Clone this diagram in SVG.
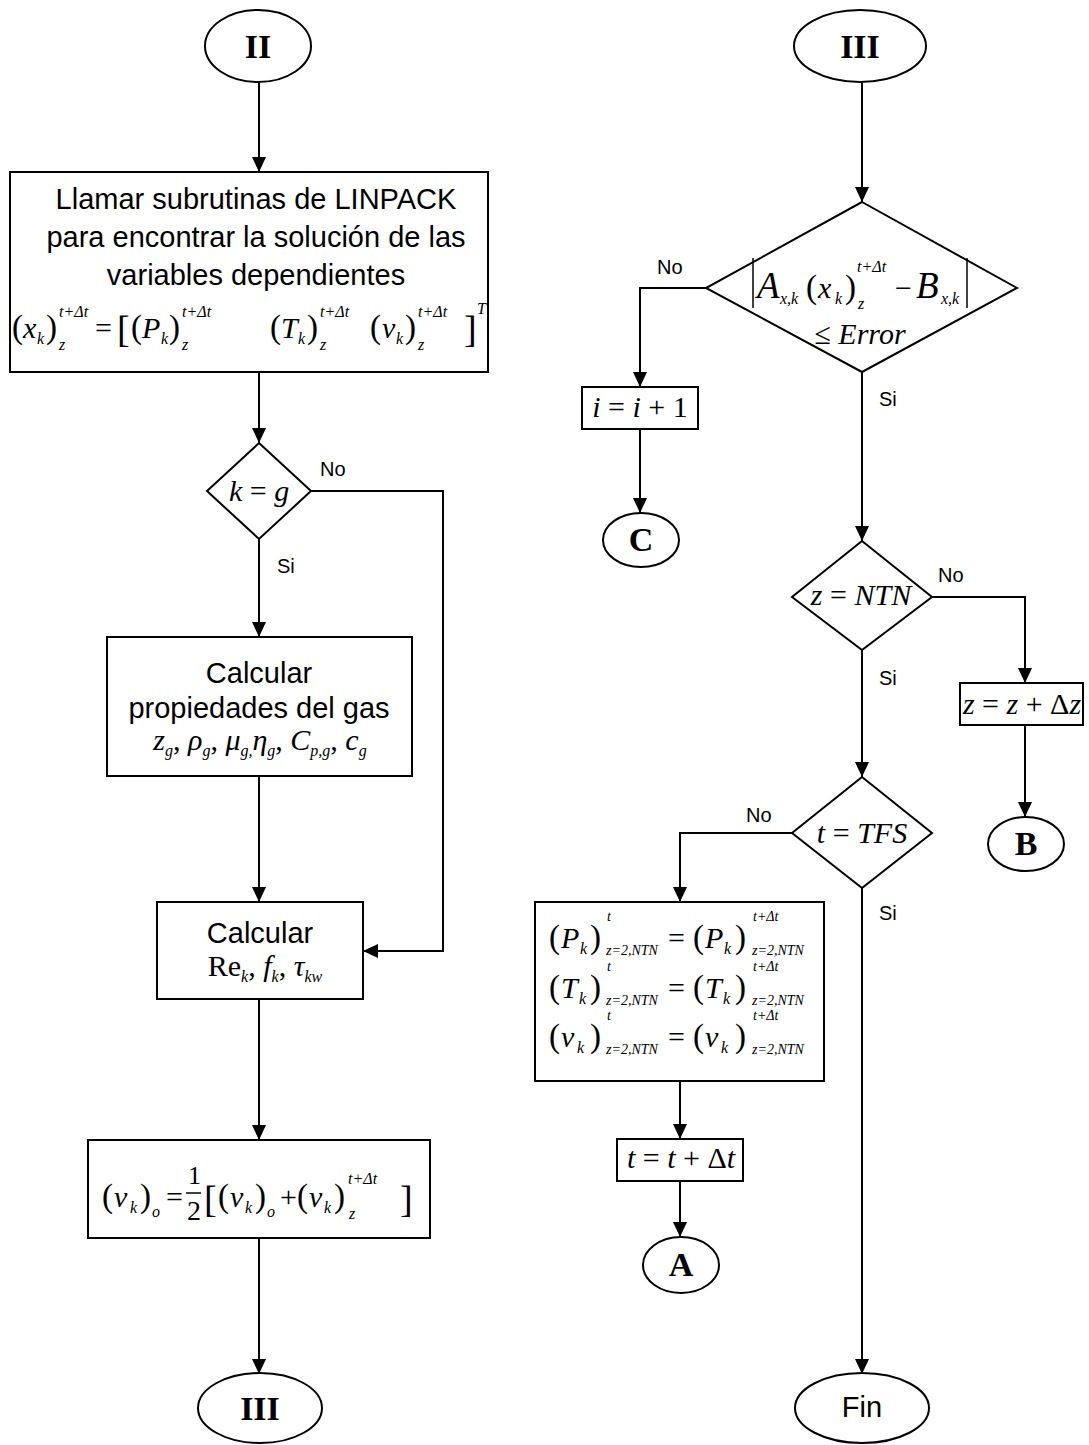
<svg xmlns="http://www.w3.org/2000/svg" width="1089" height="1445" viewBox="0 0 1089 1445">
<defs>
<marker id="arr" markerUnits="userSpaceOnUse" markerWidth="16" markerHeight="14" refX="15" refY="7" orient="auto">
<path d="M0,0 L15,7 L0,14 z" fill="#000"/>
</marker>
<style>
.sh{fill:#fff;stroke:#000;stroke-width:2}
.ln{fill:none;stroke:#000;stroke-width:2;marker-end:url(#arr)}
.lbl{font-family:"Liberation Sans",Arial,sans-serif;font-size:20px;fill:#000}
.bt{font-family:"Liberation Sans",Arial,sans-serif;font-size:29px;fill:#000;text-anchor:middle}
.term{font-family:"Liberation Serif","Times New Roman",serif;font-weight:bold;font-size:34px;fill:#000;text-anchor:middle}
.m{font-family:"Liberation Serif","Times New Roman",serif;font-size:30px;fill:#000}
.i{font-style:italic}
.s{font-size:16px;font-style:italic}
.ss{font-size:14px;font-style:italic}
.p{font-size:33px}
.bk{font-size:38px}
.bar{stroke:#000;stroke-width:1.5}
</style>
</defs>

<g id="connectors">
<path class="ln" d="M259,82 L259,172"/>
<path class="ln" d="M259,372 L259,443"/>
<path class="ln" d="M311,491 L443,491 L443,951 L363,951"/>
<path class="ln" d="M259,539 L259,637"/>
<path class="ln" d="M259,776 L259,902"/>
<path class="ln" d="M259,999 L259,1140"/>
<path class="ln" d="M259,1238 L259,1374"/>
<path class="ln" d="M862,82 L862,202"/>
<path class="ln" d="M706,288 L640,288 L640,387"/>
<path class="ln" d="M640,429 L640,513"/>
<path class="ln" d="M862,372 L862,541"/>
<path class="ln" d="M932,597 L1025,597 L1025,683"/>
<path class="ln" d="M1025,725 L1025,817"/>
<path class="ln" d="M862,650 L862,777"/>
<path class="ln" d="M792,833 L680,833 L680,902"/>
<path class="ln" d="M862,888 L862,1374"/>
<path class="ln" d="M680,1081 L680,1139"/>
<path class="ln" d="M680,1181 L680,1237"/>
<text class="lbl" x="320" y="476">No</text>
<text class="lbl" x="277" y="573">Si</text>
<text class="lbl" x="657" y="274">No</text>
<text class="lbl" x="879" y="406">Si</text>
<text class="lbl" x="938" y="582">No</text>
<text class="lbl" x="879" y="685">Si</text>
<text class="lbl" x="746" y="822">No</text>
<text class="lbl" x="879" y="920">Si</text>
</g>

<g id="start-II">
<ellipse class="sh" cx="258" cy="46" rx="53" ry="36"/>
<text class="term" x="258" y="58">II</text>
</g>

<g id="linpack">
<rect class="sh" x="10" y="172" width="478" height="200"/>
<text class="bt" x="256" y="209">Llamar subrutinas de LINPACK</text>
<text class="bt" x="256" y="247">para encontrar la solución de las</text>
<text class="bt" x="256" y="285">variables dependientes</text>
<text class="m"><tspan class="p" x="12" y="338">(</tspan><tspan class="i" x="23" y="338">x</tspan><tspan class="s" x="37" y="344">k</tspan><tspan class="p" x="46" y="338">)</tspan><tspan class="s" x="59" y="350">z</tspan><tspan class="s" x="59" y="317">t+Δt</tspan><tspan x="95" y="338">=</tspan><tspan class="bk" x="117" y="342">[</tspan><tspan class="p" x="131" y="338">(</tspan><tspan class="i" x="142" y="338">P</tspan><tspan class="s" x="161" y="344">k</tspan><tspan class="p" x="169" y="338">)</tspan><tspan class="s" x="182" y="350">z</tspan><tspan class="s" x="182" y="317">t+Δt</tspan><tspan class="p" x="270" y="338">(</tspan><tspan class="i" x="281" y="338">T</tspan><tspan class="s" x="298" y="344">k</tspan><tspan class="p" x="307" y="338">)</tspan><tspan class="s" x="320" y="350">z</tspan><tspan class="s" x="320" y="317">t+Δt</tspan><tspan class="p" x="370" y="338">(</tspan><tspan class="i" x="382" y="338">v</tspan><tspan class="s" x="396" y="344">k</tspan><tspan class="p" x="405" y="338">)</tspan><tspan class="s" x="418" y="350">z</tspan><tspan class="s" x="418" y="317">t+Δt</tspan><tspan class="bk" x="464" y="342">]</tspan><tspan class="s" x="477" y="314">T</tspan></text>
</g>

<g id="dec-kg">
<polygon class="sh" points="259,443 311,491 259,539 207,491"/>
<text class="m" font-size="29" x="259" y="501" text-anchor="middle"><tspan class="i">k</tspan> = <tspan class="i">g</tspan></text>
</g>

<g id="gas">
<rect class="sh" x="107" y="637" width="305" height="139"/>
<text class="bt" x="259" y="683">Calcular</text>
<text class="bt" x="259" y="718">propiedades del gas</text>
<text class="m" x="260" y="750" text-anchor="middle"><tspan class="i">z</tspan><tspan class="s" dy="6" font-size="18">g</tspan><tspan dy="-6">, </tspan><tspan class="i">ρ</tspan><tspan class="s" dy="6" font-size="18">g</tspan><tspan dy="-6">, </tspan><tspan class="i">μ</tspan><tspan class="s" dy="6" font-size="18">g,</tspan><tspan class="i" dy="-6">η</tspan><tspan class="s" dy="6" font-size="18">g</tspan><tspan dy="-6">, </tspan><tspan class="i">C</tspan><tspan class="s" dy="6" font-size="18">p,g</tspan><tspan dy="-6">, </tspan><tspan class="i">c</tspan><tspan class="s" dy="6" font-size="18">g</tspan></text>
</g>

<g id="re">
<rect class="sh" x="157" y="902" width="206" height="97"/>
<text class="bt" x="260" y="943">Calcular</text>
<text class="m" x="265" y="976" text-anchor="middle">Re<tspan class="s" dy="6" font-size="18">k</tspan><tspan dy="-6">, </tspan><tspan class="i">f</tspan><tspan class="s" dy="6" font-size="18">k</tspan><tspan dy="-6">, </tspan><tspan class="i">τ</tspan><tspan class="s" dy="6" font-size="18">kw</tspan></text>
</g>

<g id="vk">
<rect class="sh" x="88" y="1140" width="342" height="98"/>
<text class="m"><tspan class="p" x="102" y="1207">(</tspan><tspan class="i" x="114" y="1207">v</tspan><tspan class="s" x="130" y="1213">k</tspan><tspan class="p" x="140" y="1207">)</tspan><tspan class="s" font-size="18" x="152" y="1217">o</tspan><tspan x="166" y="1207">=</tspan><tspan font-size="26" x="188" y="1184">1</tspan><tspan font-size="28" x="187" y="1220">2</tspan><tspan class="bk" x="204" y="1212">[</tspan><tspan class="p" x="218" y="1207">(</tspan><tspan class="i" x="230" y="1207">v</tspan><tspan class="s" x="245" y="1213">k</tspan><tspan class="p" x="255" y="1207">)</tspan><tspan class="s" font-size="18" x="267" y="1217">o</tspan><tspan x="280" y="1207">+</tspan><tspan class="p" x="297" y="1207">(</tspan><tspan class="i" x="309" y="1207">v</tspan><tspan class="s" x="324" y="1213">k</tspan><tspan class="p" x="334" y="1207">)</tspan><tspan class="s" x="349" y="1219">z</tspan><tspan class="s" x="348" y="1184">t+Δt</tspan><tspan class="bk" x="400" y="1212">]</tspan></text>
<line class="bar" x1="186" y1="1193" x2="201" y2="1193"/>
</g>

<g id="end-III-left">
<ellipse class="sh" cx="260" cy="1408" rx="62" ry="35"/>
<text class="term" x="260" y="1420">III</text>
</g>

<g id="start-III">
<ellipse class="sh" cx="860" cy="46" rx="66" ry="36"/>
<text class="term" x="860" y="58">III</text>
</g>

<g id="dec-error">
<polygon class="sh" points="862,202 1017,288 862,372 706,288"/>
<line class="bar" x1="753" y1="258" x2="753" y2="308"/>
<line class="bar" x1="967" y1="258" x2="967" y2="308"/>
<text class="m" font-size="34"><tspan class="i" font-size="37" x="757" y="298">A</tspan><tspan class="s" font-size="17" x="780" y="304">x,k</tspan><tspan class="p" font-size="37" x="806" y="298">(</tspan><tspan class="i" x="818" y="298">x</tspan><tspan class="s" font-size="17" x="835" y="304">k</tspan><tspan class="p" font-size="37" x="845" y="298">)</tspan><tspan class="s" x="858" y="309">z</tspan><tspan class="s" x="857" y="272">t+Δt</tspan><tspan x="895" y="298">−</tspan><tspan class="i" font-size="37" x="916" y="298">B</tspan><tspan class="s" font-size="17" x="941" y="304">x,k</tspan></text>
<text class="m" x="860" y="344" text-anchor="middle">≤ <tspan class="i">Error</tspan></text>
</g>

<g id="inc-i">
<rect class="sh" x="582" y="387" width="116" height="42"/>
<text class="m" font-size="26" x="640" y="417" text-anchor="middle"><tspan class="i">i</tspan> = <tspan class="i">i</tspan> + 1</text>
</g>

<g id="conn-C">
<ellipse class="sh" cx="641" cy="540" rx="38" ry="27"/>
<text class="term" font-size="30" x="641" y="551">C</text>
</g>

<g id="dec-ntn">
<polygon class="sh" points="862,541 932,597 862,650 792,597"/>
<text class="m" font-size="25" x="861" y="605" text-anchor="middle"><tspan class="i">z</tspan> = <tspan class="i">NTN</tspan></text>
</g>

<g id="inc-z">
<rect class="sh" x="960" y="683" width="123" height="42"/>
<text class="m" font-size="26" x="1022" y="714" text-anchor="middle"><tspan class="i">z</tspan> = <tspan class="i">z</tspan> + Δ<tspan class="i">z</tspan></text>
</g>

<g id="conn-B">
<ellipse class="sh" cx="1026" cy="844" rx="38" ry="27"/>
<text class="term" font-size="30" x="1026" y="855">B</text>
</g>

<g id="dec-tfs">
<polygon class="sh" points="862,777 932,833 862,888 792,833"/>
<text class="m" font-size="27" x="862" y="843" text-anchor="middle"><tspan class="i">t</tspan> = <tspan class="i">TFS</tspan></text>
</g>

<g id="update">
<rect class="sh" x="535" y="902" width="289" height="179"/>
<text class="m"><tspan class="p" x="549" y="948">(</tspan><tspan class="i" x="561" y="948">P</tspan><tspan class="s" x="580" y="954">k</tspan><tspan class="p" x="590" y="948">)</tspan><tspan class="ss" x="607" y="921">t</tspan><tspan class="ss" x="606" y="955">z=2,NTN</tspan><tspan x="668" y="948">=</tspan><tspan class="p" x="693" y="948">(</tspan><tspan class="i" x="705" y="948">P</tspan><tspan class="s" x="724" y="954">k</tspan><tspan class="p" x="735" y="948">)</tspan><tspan class="ss" x="753" y="921">t+Δt</tspan><tspan class="ss" x="752" y="955">z=2,NTN</tspan><tspan class="p" x="549" y="998">(</tspan><tspan class="i" x="561" y="998">T</tspan><tspan class="s" x="579" y="1004">k</tspan><tspan class="p" x="590" y="998">)</tspan><tspan class="ss" x="607" y="971">t</tspan><tspan class="ss" x="606" y="1005">z=2,NTN</tspan><tspan x="668" y="998">=</tspan><tspan class="p" x="693" y="998">(</tspan><tspan class="i" x="705" y="998">T</tspan><tspan class="s" x="723" y="1004">k</tspan><tspan class="p" x="735" y="998">)</tspan><tspan class="ss" x="753" y="971">t+Δt</tspan><tspan class="ss" x="752" y="1005">z=2,NTN</tspan><tspan class="p" x="549" y="1047">(</tspan><tspan class="i" x="561" y="1047">v</tspan><tspan class="s" x="577" y="1053">k</tspan><tspan class="p" x="590" y="1047">)</tspan><tspan class="ss" x="607" y="1020">t</tspan><tspan class="ss" x="606" y="1054">z=2,NTN</tspan><tspan x="668" y="1047">=</tspan><tspan class="p" x="693" y="1047">(</tspan><tspan class="i" x="705" y="1047">v</tspan><tspan class="s" x="721" y="1053">k</tspan><tspan class="p" x="735" y="1047">)</tspan><tspan class="ss" x="753" y="1020">t+Δt</tspan><tspan class="ss" x="752" y="1054">z=2,NTN</tspan></text>
</g>

<g id="inc-t">
<rect class="sh" x="617" y="1139" width="126" height="42"/>
<text class="m" font-size="27" x="681" y="1168" text-anchor="middle"><tspan class="i">t</tspan> = <tspan class="i">t</tspan> + Δ<tspan class="i">t</tspan></text>
</g>

<g id="conn-A">
<ellipse class="sh" cx="681" cy="1265" rx="38" ry="28"/>
<text class="term" font-size="30" x="681" y="1276">A</text>
</g>

<g id="end-fin">
<ellipse class="sh" cx="862" cy="1408" rx="67" ry="35"/>
<text class="bt" font-size="24" x="862" y="1417">Fin</text>
</g>
</svg>
